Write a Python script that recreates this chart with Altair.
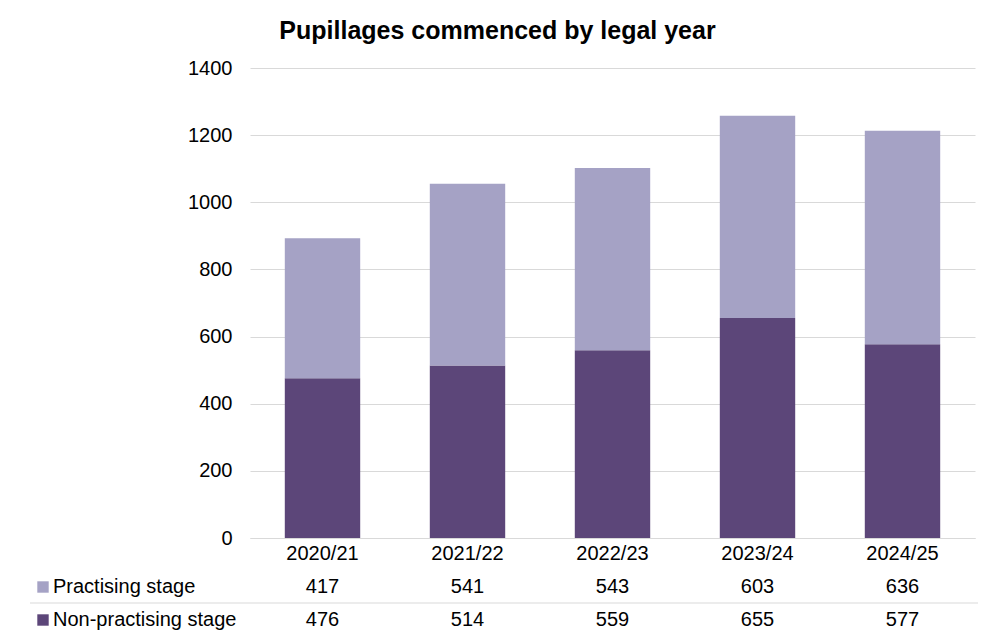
import altair as alt
import pandas as pd

years = ["2020/21", "2021/22", "2022/23", "2023/24", "2024/25"]
practising = [417, 541, 543, 603, 636]
non_practising = [476, 514, 559, 655, 577]
series = ["Non-practising stage", "Practising stage"]
colors = ["#5C4679", "#A5A2C5"]

rows = []
for i, y in enumerate(years):
    rows.append({"year": y, "series": series[0], "value": non_practising[i], "order": 0})
    rows.append({"year": y, "series": series[1], "value": practising[i], "order": 1})
df = pd.DataFrame(rows)

FONT = "Liberation Sans"
FS = 20
xenc = alt.X("year:N", sort=years, title=None,
             scale=alt.Scale(paddingInner=0.48, paddingOuter=0.24),
             axis=alt.Axis(labelAngle=0, labelFontSize=FS, labelColor="#000000",
                           labelPadding=5, ticks=False, domainColor="#D9D9D9",
                           labelFont=FONT))
color = alt.Color("series:N", scale=alt.Scale(domain=series, range=colors), legend=None)

bars = alt.Chart(df).mark_bar().encode(
    x=xenc,
    y=alt.Y("value:Q", stack="zero", title=None,
            scale=alt.Scale(domain=[0, 1400]),
            axis=alt.Axis(values=list(range(0, 1401, 200)), format="d", labelFontSize=FS,
                          labelColor="#000000", labelPadding=18, ticks=False,
                          domain=False, gridColor="#D9D9D9", labelFont=FONT)),
    color=color,
    order=alt.Order("order:Q"),
)

prac_df = df[df.series == "Practising stage"]
non_df = df[df.series == "Non-practising stage"]

t1 = alt.Chart(prac_df).mark_text(fontSize=FS, font=FONT, color="#000000", baseline="middle").encode(
    x=alt.X("year:N", sort=years), y=alt.value(519), text="value:Q")
t2 = alt.Chart(non_df).mark_text(fontSize=FS, font=FONT, color="#000000", baseline="middle").encode(
    x=alt.X("year:N", sort=years), y=alt.value(552), text="value:Q")

leg_df = pd.DataFrame({"series": series, "ypos": [552, 519]})
leg_text = alt.Chart(leg_df).mark_text(fontSize=FS, font=FONT, color="#000000", align="left",
                                        baseline="middle").encode(
    x=alt.value(-197), y=alt.Y("ypos:Q", scale=None), text="series:N")
leg_sq = alt.Chart(leg_df).mark_square(size=130, opacity=1).encode(
    x=alt.value(-207), y=alt.Y("ypos:Q", scale=None), color=color)

sep = alt.Chart(pd.DataFrame({"a": [0]})).mark_rule(color="#D9D9D9", strokeWidth=1).encode(
    x=alt.value(-220), x2=alt.value(728), y=alt.value(535))

chart = alt.layer(bars, t1, t2, leg_text, leg_sq, sep).properties(
    width=725, height=470,
    autosize=alt.AutoSizeParams(type="none"),
    padding={"left": 242, "top": 60, "right": 4, "bottom": 96},
    title=alt.TitleParams("Pupillages commenced by legal year", fontSize=25, font=FONT,
                          fontWeight="bold", anchor="middle", dx=-115, offset=14,
                          color="#000000"),
).configure_view(stroke=None)

chart.save("out.html", embed_options={"renderer": "svg", "actions": False})
